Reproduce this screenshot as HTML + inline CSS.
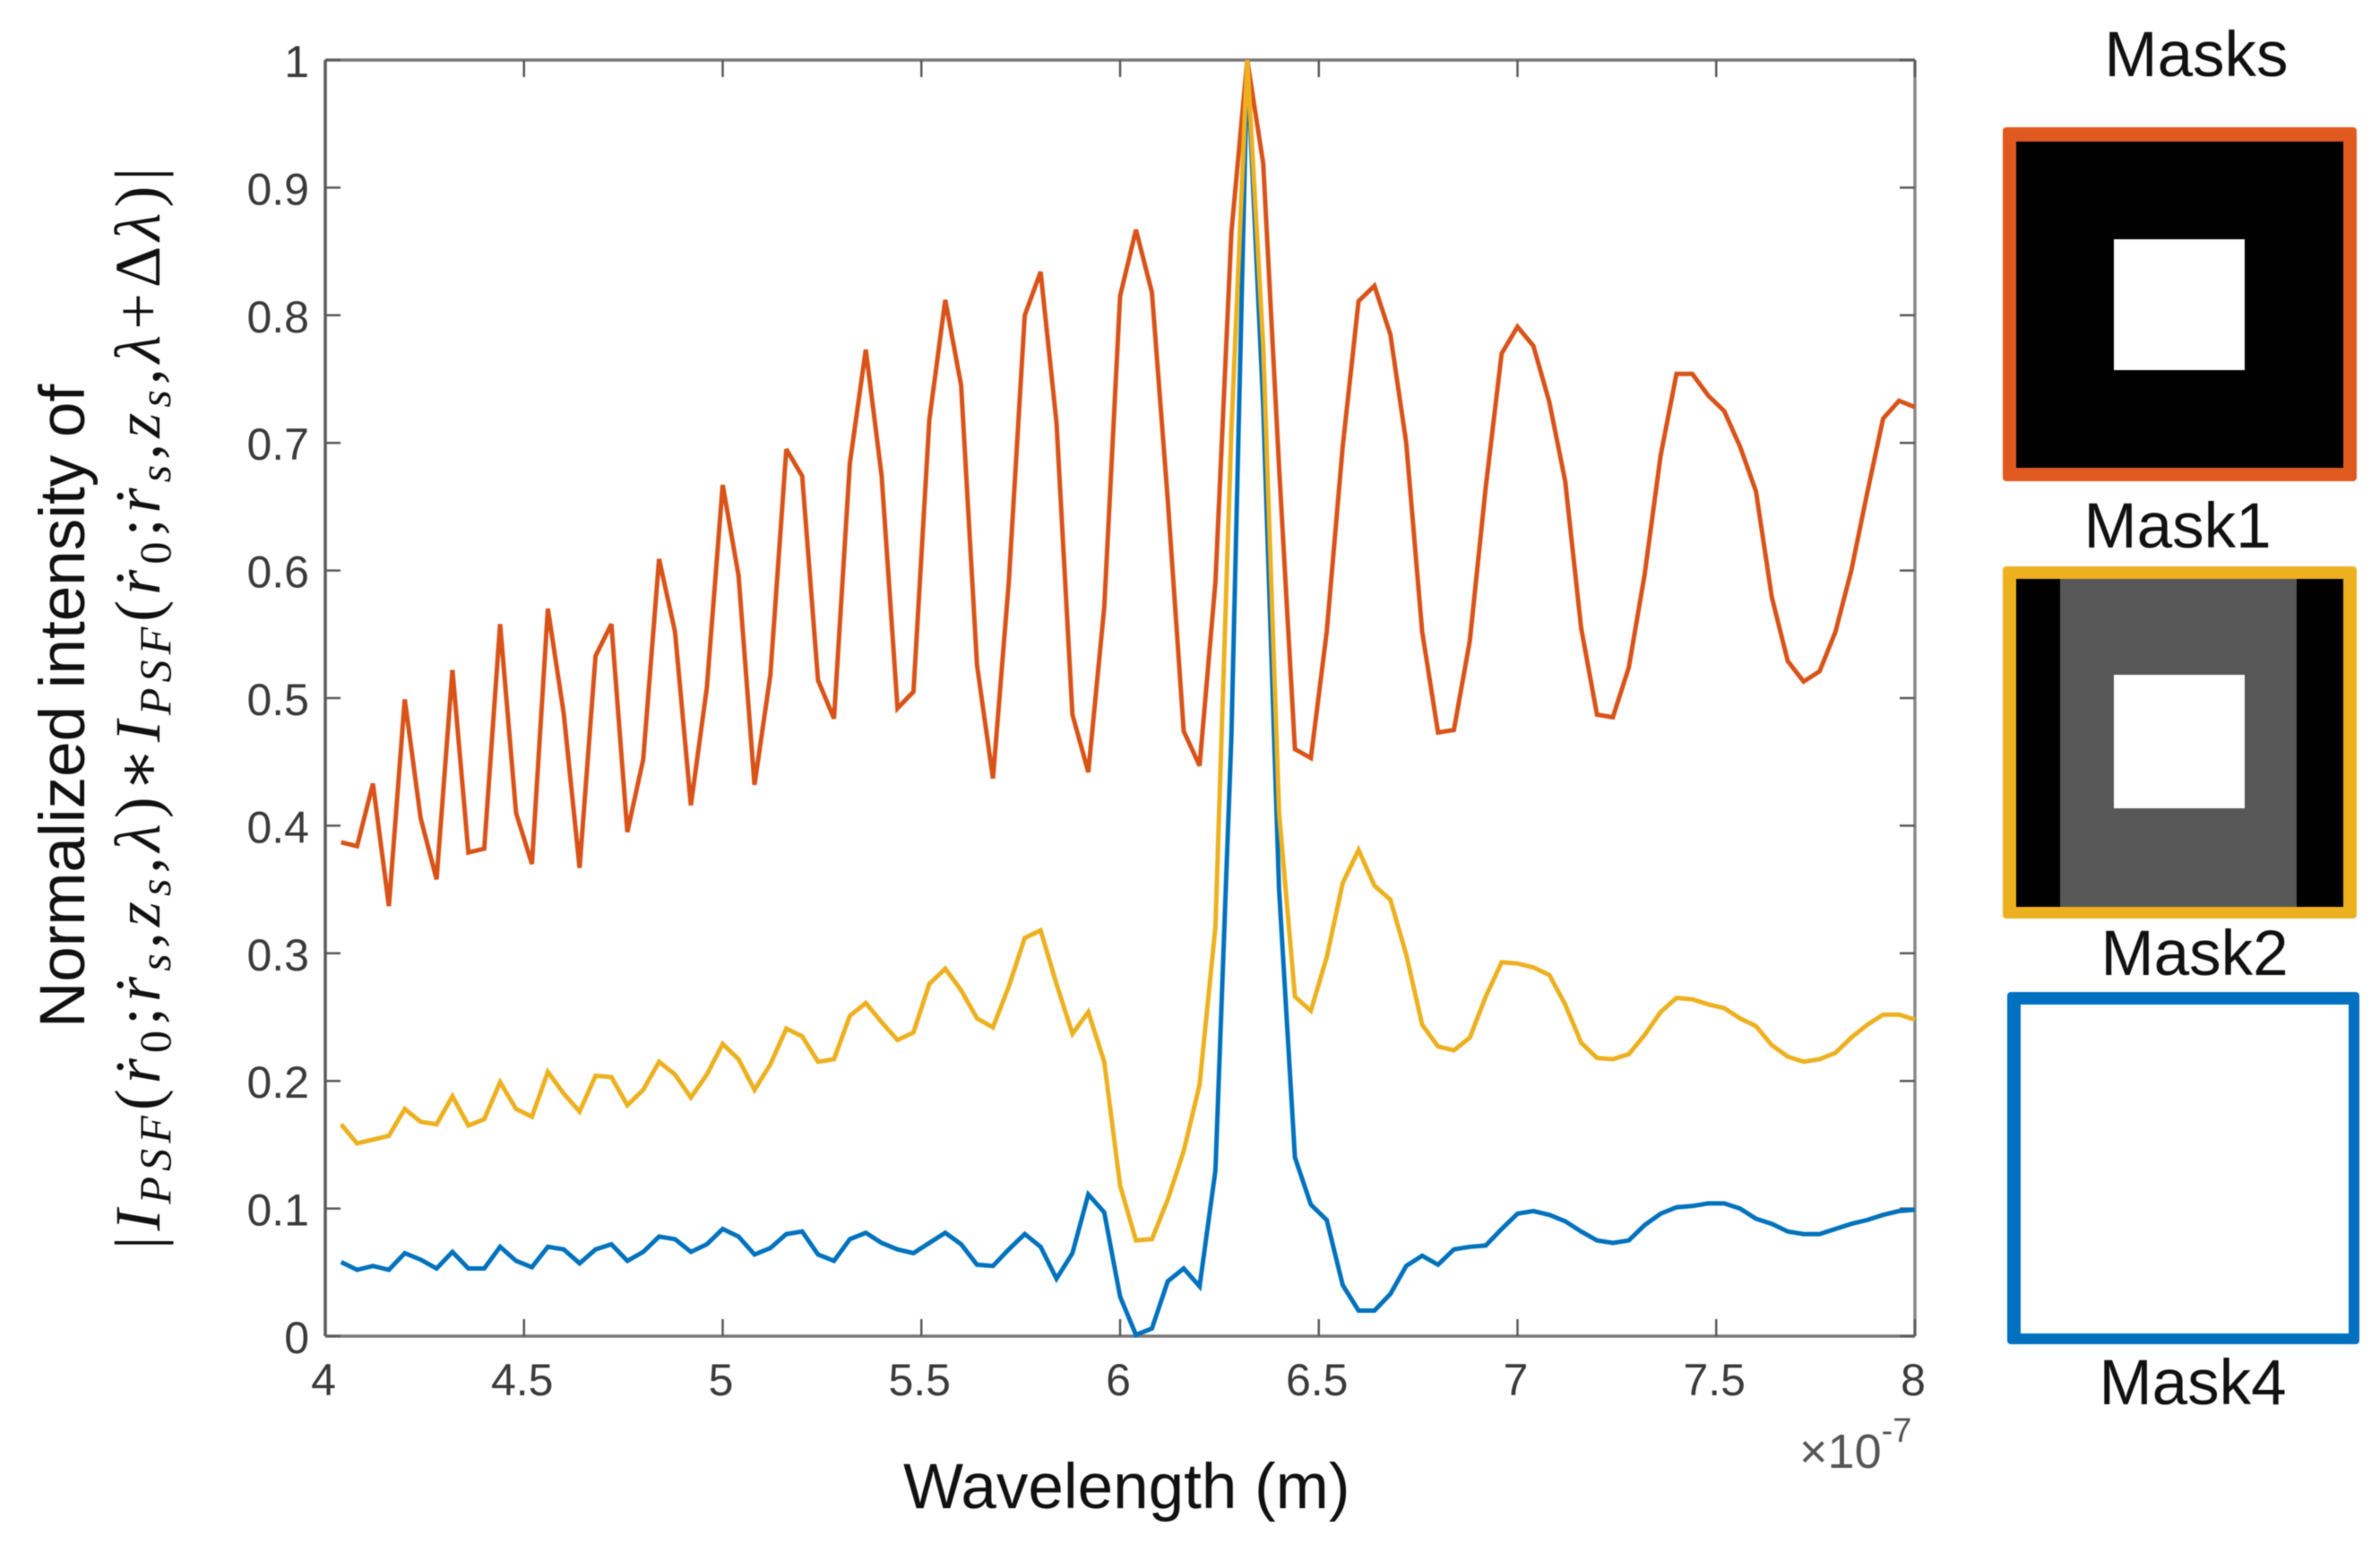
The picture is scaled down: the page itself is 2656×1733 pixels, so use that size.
<!DOCTYPE html>
<html lang="en">
<head>
<meta charset="utf-8">
<title>Normalized intensity vs wavelength</title>
<style>
  html,body{margin:0;padding:0;background:#fff;}
  #stage{position:relative;width:2656px;height:1733px;overflow:hidden;background:#fff;}
  svg{display:block;filter:blur(0.6px);}
  text{font-family:"Liberation Sans",sans-serif;}
  .math{font-family:"Liberation Serif","DejaVu Serif",serif;font-style:italic;fill:#111;}
  .upright{font-style:normal;}
  .lbl{font-size:71px;fill:#111;}
  .tick-label{font-size:50px;fill:#3a3a3a;}
</style>
</head>
<body>
<div id="stage">
<svg id="fig" width="2656" height="1733" viewBox="0 0 2656 1733" xmlns="http://www.w3.org/2000/svg">
  <rect x="0" y="0" width="2656" height="1733" fill="#fff"/>
  <g id="plot"></g>

  <text class="lbl" x="1008" y="1683">Wavelength (m)</text>
  <text x="2008" y="1638" font-size="54" fill="#555">×10<tspan font-size="38" dy="-29">-7</tspan></text>

  <text class="lbl" transform="translate(94,1147) rotate(-90)">Normalized intensity of</text>
  <text class="math" font-size="72" transform="translate(178,1394) rotate(-90)" textLength="1207" lengthAdjust="spacing"><tspan class="upright">|</tspan>I<tspan font-size="50" dy="12">PSF</tspan><tspan class="upright" dy="-12">(</tspan>ṙ<tspan class="upright" font-size="50" dy="12">0</tspan><tspan class="upright" dy="-12">;</tspan>ṙ<tspan font-size="50" dy="12">s</tspan><tspan class="upright" dy="-12">,</tspan>z<tspan font-size="50" dy="12">s</tspan><tspan class="upright" dy="-12">,</tspan>λ<tspan class="upright">)∗</tspan>I<tspan font-size="50" dy="12">PSF</tspan><tspan class="upright" dy="-12">(</tspan>ṙ<tspan class="upright" font-size="50" dy="12">0</tspan><tspan class="upright" dy="-12">;</tspan>ṙ<tspan font-size="50" dy="12">s</tspan><tspan class="upright" dy="-12">,</tspan>z<tspan font-size="50" dy="12">s</tspan><tspan class="upright" dy="-12">,</tspan>λ<tspan class="upright">+Δ</tspan>λ<tspan class="upright">)|</tspan></text>

  <g>
    <text class="lbl" x="2451" y="85" text-anchor="middle">Masks</text>

    <g>
      <rect x="2235" y="142" width="395" height="395" rx="4" fill="#e05a20"/>
      <rect x="2250" y="158" width="365" height="364" fill="#000"/>
      <rect x="2359" y="267" width="146" height="146" fill="#fff"/>
    </g>
    <text class="lbl" x="2430" y="611" text-anchor="middle">Mask1</text>

    <g>
      <rect x="2235" y="632" width="395" height="393" rx="4" fill="#edb120"/>
      <rect x="2250" y="646" width="365" height="366" fill="#000"/>
      <rect x="2299" y="646" width="264" height="366" fill="#575757"/>
      <rect x="2359" y="753" width="146" height="149" fill="#fff"/>
    </g>
    <text class="lbl" x="2449" y="1088" text-anchor="middle">Mask2</text>

    <g>
      <rect x="2240" y="1107" width="393" height="393" rx="4" fill="#0070c0"/>
      <rect x="2255" y="1121" width="366" height="367" fill="#fff"/>
    </g>
    <text class="lbl" x="2447" y="1567" text-anchor="middle">Mask4</text>
  </g>
</svg>
</div>
<script>
// Chart data
const wavelengths = [4.04,4.08,4.12,4.16,4.20,4.24,4.28,4.32,4.36,4.40,4.44,4.48,4.52,4.56,4.60,4.64,4.68,4.72,4.76,4.80,4.84,4.88,4.92,4.96,5.00,5.04,5.08,5.12,5.16,5.20,5.24,5.28,5.32,5.36,5.40,5.44,5.48,5.52,5.56,5.60,5.64,5.68,5.72,5.76,5.80,5.84,5.88,5.92,5.96,6.00,6.04,6.08,6.12,6.16,6.20,6.24,6.28,6.32,6.36,6.40,6.44,6.48,6.52,6.56,6.60,6.64,6.68,6.72,6.76,6.80,6.84,6.88,6.92,6.96,7.00,7.04,7.08,7.12,7.16,7.20,7.24,7.28,7.32,7.36,7.40,7.44,7.48,7.52,7.56,7.60,7.64,7.68,7.72,7.76,7.80,7.84,7.88,7.92,7.96,8.00];
const mask1Values = [.387,.384,.433,.337,.499,.406,.358,.522,.379,.382,.558,.41,.37,.57,.488,.367,.533,.558,.395,.452,.609,.552,.416,.508,.667,.596,.432,.518,.695,.674,.514,.484,.684,.773,.674,.492,.505,.718,.812,.745,.526,.437,.591,.8,.834,.716,.487,.442,.571,.815,.867,.818,.655,.474,.447,.591,.865,1,.919,.681,.46,.453,.552,.697,.811,.823,.785,.7,.552,.473,.475,.545,.665,.77,.791,.776,.732,.67,.555,.487,.485,.524,.597,.69,.754,.754,.737,.725,.697,.662,.579,.529,.513,.521,.552,.6,.661,.719,.733,.728];
const mask2Values = [.166,.151,.154,.157,.178,.168,.166,.188,.165,.17,.199,.178,.172,.207,.19,.176,.204,.203,.181,.193,.215,.205,.187,.205,.229,.217,.193,.213,.241,.235,.215,.217,.251,.261,.246,.232,.238,.276,.288,.271,.249,.242,.274,.312,.318,.276,.237,.254,.215,.118,.075,.076,.107,.145,.197,.321,.71,1,.776,.41,.266,.255,.297,.355,.381,.353,.342,.299,.244,.227,.224,.234,.266,.293,.292,.289,.283,.26,.23,.218,.217,.221,.236,.254,.265,.264,.26,.257,.249,.243,.228,.219,.215,.217,.222,.234,.244,.252,.252,.248];
const mask4Values = [.058,.052,.055,.052,.065,.06,.053,.066,.053,.053,.07,.059,.054,.07,.068,.057,.068,.072,.059,.066,.078,.076,.066,.072,.084,.078,.064,.069,.08,.082,.064,.059,.076,.081,.073,.068,.065,.073,.081,.072,.056,.055,.068,.08,.07,.045,.065,.111,.097,.031,.001,.006,.043,.053,.039,.13,.47,1,.729,.35,.14,.103,.091,.04,.02,.02,.033,.055,.063,.056,.068,.07,.071,.084,.096,.098,.095,.09,.082,.075,.073,.075,.087,.096,.101,.102,.104,.104,.1,.092,.088,.082,.08,.08,.084,.088,.091,.095,.098,.099];
const xTickValues = [4,4.5,5,5.5,6,6.5,7,7.5,8];
const xTickLabels = ["4","4.5","5","5.5","6","6.5","7","7.5","8"];
const yTickValues = [0,0.1,0.2,0.3,0.4,0.5,0.6,0.7,0.8,0.9,1];
const yTickLabels = ["0","0.1","0.2","0.3","0.4","0.5","0.6","0.7","0.8","0.9","1"];

const NS = "http://www.w3.org/2000/svg";
const plot = document.getElementById("plot");
const box = {left:363, right:2137, top:67, bottom:1491};
const xDomain = [4, 8];
const yDomain = [0, 1];
function xScale(v){ return box.left + (v - xDomain[0]) / (xDomain[1] - xDomain[0]) * (box.right - box.left); }
function yScale(v){ return box.bottom - (v - yDomain[0]) / (yDomain[1] - yDomain[0]) * (box.bottom - box.top); }

function drawLine(x1, y1, x2, y2, w, c, name){
  const el = document.createElementNS(NS, "line");
  el.setAttribute("x1", x1); el.setAttribute("y1", y1);
  el.setAttribute("x2", x2); el.setAttribute("y2", y2);
  el.setAttribute("stroke", c); el.setAttribute("stroke-width", w);
  
  
  plot.appendChild(el);
}
function drawLabel(x, y, anchor, str, name){
  const el = document.createElementNS(NS, "text");
  el.setAttribute("x", x); el.setAttribute("y", y);
  el.setAttribute("text-anchor", anchor);
  el.setAttribute("class", "tick-label");
  el.textContent = str;
  
  
  plot.appendChild(el);
}
function drawSeries(values, color, name){
  const el = document.createElementNS(NS, "polyline");
  const pts = values.map(function(v, i){ return xScale(wavelengths[i]).toFixed(1) + "," + yScale(v).toFixed(1); });
  el.setAttribute("points", pts.join(" "));
  el.setAttribute("fill", "none");
  el.setAttribute("stroke", color);
  el.setAttribute("stroke-width", "5");
  el.setAttribute("stroke-linejoin", "miter");
  el.setAttribute("stroke-miterlimit", "3");
  
  
  plot.appendChild(el);
}

const axisColor = "#5a5a5a";
drawLine(box.left, box.top, box.right, box.top, 3.5, "#777", "top-axis-line");
drawLine(box.right, box.top, box.right, box.bottom, 3.5, "#888", "right-axis-line");
drawLine(box.left, box.top, box.left, box.bottom, 3.5, axisColor, "left-axis-line");
drawLine(box.left, box.bottom, box.right, box.bottom, 3.5, "#777", "bottom-axis-line");

xTickValues.forEach(function(v, i){
  const x = xScale(v);
  drawLine(x, box.bottom, x, box.bottom - 19, 2.5, axisColor, "x-tick-bottom");
  drawLine(x, box.top, x, box.top + 19, 2.5, axisColor, "x-tick-top");
  drawLabel(x - 2, 1557, "middle", xTickLabels[i], "x-tick-label");
});
yTickValues.forEach(function(v, i){
  const y = yScale(v);
  drawLine(box.left, y, box.left + 17, y, 2.5, axisColor, "y-tick-left");
  drawLine(box.right, y, box.right - 17, y, 2.5, axisColor, "y-tick-right");
  drawLabel(345, y + 19, "end", yTickLabels[i], "y-tick-label");
});

drawSeries(mask4Values, "#0072bd", "series-mask4");
drawSeries(mask1Values, "#d95319", "series-mask1");
drawSeries(mask2Values, "#edb120", "series-mask2");
</script>
</body>
</html>
